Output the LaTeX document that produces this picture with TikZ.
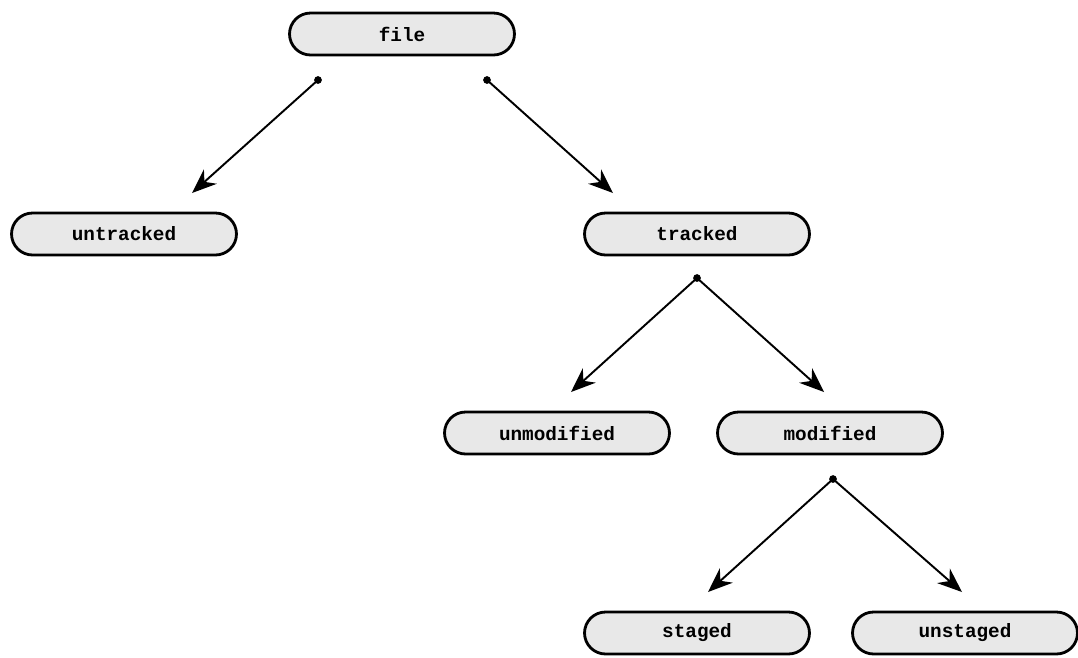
\documentclass[tikz,border=0pt]{standalone}
\usepackage{fontspec}
\setmonofont{Liberation Mono}
\usetikzlibrary{arrows.meta}

\begin{document}
\begin{tikzpicture}[x=0.02cm, y=-0.02cm,
font=\ttfamily\bfseries\fontsize{11}{13}\selectfont,
state/.style={draw, line width=1.6pt, fill=black!9, rounded corners=0.42cm,
minimum width=4.5cm, minimum height=0.84cm, inner sep=0pt},
link/.style={line width=1.1pt, -{Stealth[length=14pt, width=11pt, inset=4.5pt]}},
dot/.style={fill=black}]
\useasboundingbox (0,0) rectangle (1078,657);
% states
\node[state] (file) at (402,34) {file};
\node[state] (untracked) at (124,234) {untracked};
\node[state] (tracked) at (697,234) {tracked};
\node[state] (unmodified) at (557,433) {unmodified};
\node[state] (modified) at (830,433) {modified};
\node[state] (staged) at (697,633) {staged};
\node[state] (unstaged) at (965,633) {unstaged};
% branch points and arrow ends
\coordinate (file-l) at (318,80);
\coordinate (file-r) at (487,80);
\coordinate (tracked-b) at (697,278);
\coordinate (modified-b) at (833,479);
\coordinate (untracked-in) at (192,193);
\coordinate (tracked-in) at (613,193);
\coordinate (unmodified-in) at (571,392);
\coordinate (modified-in) at (824,392);
\coordinate (staged-in) at (708,592);
\coordinate (unstaged-in) at (962,592);
\draw[link] (file-l) -- (untracked-in);
\draw[link] (file-r) -- (tracked-in);
\draw[link] (tracked-b) -- (unmodified-in);
\draw[link] (tracked-b) -- (modified-in);
\draw[link] (modified-b) -- (staged-in);
\draw[link] (modified-b) -- (unstaged-in);
\foreach \p in {file-l,file-r,tracked-b,modified-b}
  \fill[dot] (\p) circle (2.2pt);
\end{tikzpicture}
\end{document}
